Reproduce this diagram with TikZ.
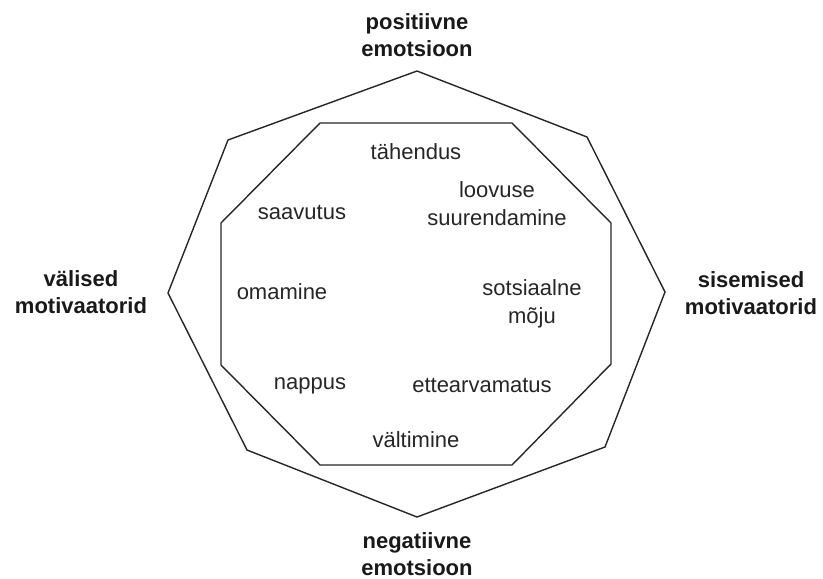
\documentclass[tikz,border=0pt]{standalone}
\usepackage{fontspec}
\setmainfont{Liberation Sans}
\begin{document}
\begin{tikzpicture}[x=1pt,y=-1pt,
  lbl/.style={font=\fontsize{22}{27}\selectfont\bfseries, align=center, text=black!90, inner sep=0pt},
  itm/.style={font=\fontsize{22}{28}\selectfont, align=center, text=black!85, inner sep=0pt},
  oct/.style={draw=black!85, line width=1.4pt, line join=miter}]
\useasboundingbox (0,0) rectangle (823,579);
% outer octagon
\coordinate (o1) at (417,71);
\coordinate (o2) at (587,137);
\coordinate (o3) at (665,292);
\coordinate (o4) at (605,447);
\coordinate (o5) at (417,517);
\coordinate (o6) at (247,450);
\coordinate (o7) at (168,293);
\coordinate (o8) at (228,140);
\draw[oct] (o1) -- (o2) -- (o3) -- (o4) -- (o5) -- (o6) -- (o7) -- (o8) -- cycle;
% inner octagon
\coordinate (i1) at (320,123);
\coordinate (i2) at (512,123);
\coordinate (i3) at (611,223);
\coordinate (i4) at (611,364);
\coordinate (i5) at (512,465);
\coordinate (i6) at (320,465);
\coordinate (i7) at (221,365);
\coordinate (i8) at (221,223);
\draw[oct] (i1) -- (i2) -- (i3) -- (i4) -- (i5) -- (i6) -- (i7) -- (i8) -- cycle;
% outer labels
\node[lbl] (pos) at (417,35) {positiivne\\emotsioon};
\node[lbl] (neg) at (417,554) {negatiivne\\emotsioon};
\node[lbl] (val) at (81,292) {välised\\motivaatorid};
\node[lbl] (sis) at (751,293) {sisemised\\motivaatorid};
% inner items
\node[itm] (tah) at (416,152) {tähendus};
\node[itm] (loo) at (497,204) {loovuse\\suurendamine};
\node[itm] (saa) at (302,212) {saavutus};
\node[itm] (oma) at (282,292) {omamine};
\node[itm] (sot) at (532,304) {sotsiaalne\\mõju};
\node[itm] (nap) at (310,386) {nappus};
\node[itm] (ett) at (482,385) {ettearvamatus};
\node[itm] (val2) at (416,440) {vältimine};
\end{tikzpicture}
\end{document}
